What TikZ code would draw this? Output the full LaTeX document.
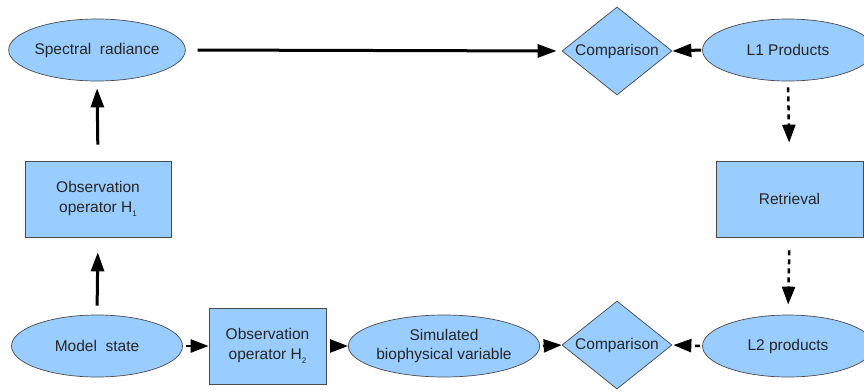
\documentclass[tikz,border=0pt]{standalone}
\usepackage{fontspec}
\setmainfont{Liberation Sans}
\usetikzlibrary{shapes.geometric,arrows.meta}
\definecolor{boxfill}{HTML}{99CCFF}
\definecolor{boxline}{HTML}{4A4A4A}
\newcommand{\sbs}[1]{\raisebox{-4.5pt}{\fontsize{8}{8}\selectfont #1}}
\begin{document}
\begin{tikzpicture}[x=1pt,y=-1pt,
  base/.style={fill=boxfill,draw=boxline,line width=0.7pt,inner sep=0pt,align=center,
    font=\fontsize{15.5}{19.5}\selectfont,text=black!85},
  oval/.style={base,ellipse,minimum width=171pt,minimum height=62pt},
  rect/.style={base,rectangle,minimum width=146pt,minimum height=76pt},
  rectb/.style={base,rectangle,minimum width=117pt,minimum height=76pt},
  diam/.style={base,diamond,aspect=1.25,minimum width=110pt,minimum height=88pt},
  solidarrow/.style={line width=3pt,-{Triangle[length=19pt,width=13pt]}},
  dasharrow/.style={line width=2.5pt,dash pattern=on 5pt off 4pt,-{Triangle[length=18pt,width=13pt]}}
]
\useasboundingbox (0,0) rectangle (864,391);
\node[oval] (spec) at (97,50) {Spectral\ \ radiance};
\node[diam] (comp1) at (617,51) {Comparison};
\node[oval] (l1) at (788,50) {L1 Products};
\node[rect] (h1) at (98,199) {Observation\\operator H\sbs{1}};
\node[rect,minimum width=147pt] (ret) at (789.5,199) {Retrieval};
\node[oval] (model) at (97,346) {Model\ \ state};
\node[rectb] (h2) at (267.5,346) {Observation\\operator H\sbs{2}};
\node[oval,minimum width=172pt] (sim) at (444,346) {Simulated\\biophysical variable};
\node[diam] (comp2) at (617,345) {Comparison};
\node[oval] (l2) at (788,346) {L2 products};

\draw[solidarrow,shorten <=12pt,shorten >=5pt] (spec.east) -- (comp1.west);
\draw[solidarrow,shorten <=1pt,shorten >=0pt] (l1.west) -- (comp1.east);
\draw[solidarrow,shorten <=16pt,shorten >=7pt] (h1.north) -- (spec.south);
\draw[solidarrow,shorten <=9pt,shorten >=15pt] (model.north) -- (h1.south);
\draw[dasharrow,shorten <=6pt,shorten >=18pt] (l1.south) -- (ret.north);
\draw[dasharrow,shorten <=13pt,shorten >=10pt] (ret.south) -- (l2.north);
\draw[dasharrow,shorten <=3pt,shorten >=0pt] (model.east) -- (h2.west);
\draw[dasharrow,shorten <=4pt,shorten >=0pt] (h2.east) -- (sim.west);
\draw[dasharrow,shorten <=3pt,shorten >=0pt] (sim.east) -- (comp2.west);
\draw[dasharrow,shorten <=2pt,shorten >=1pt] (l2.west) -- (comp2.east);
\end{tikzpicture}
\end{document}
